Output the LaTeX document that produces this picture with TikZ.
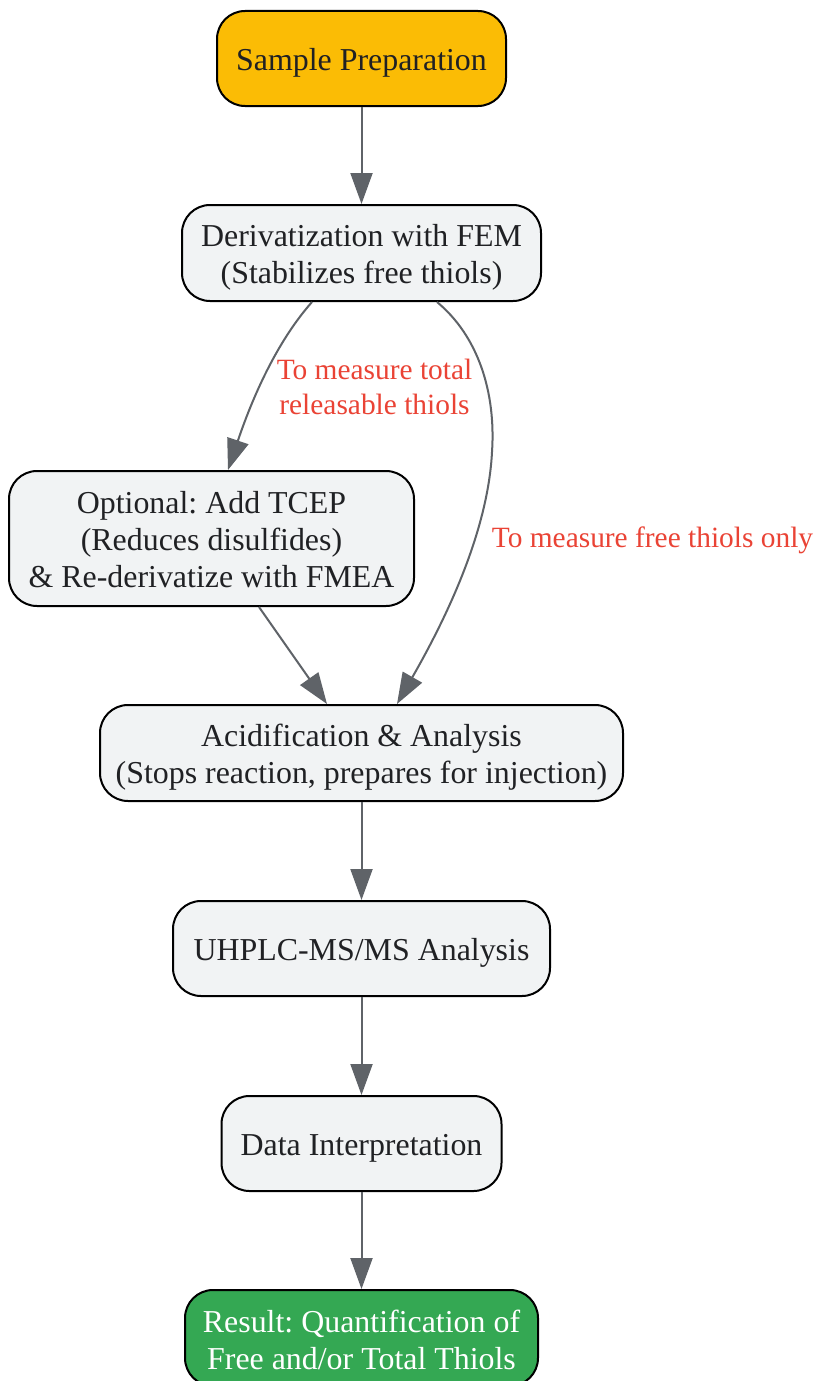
\documentclass[tikz,border=0pt]{standalone}
\usepackage{fontspec}
\setmainfont{Liberation Serif}
\usetikzlibrary{arrows.meta}
\definecolor{txt}{HTML}{202124}
\definecolor{boxfill}{HTML}{F1F3F4}
\definecolor{startfill}{HTML}{FBBC05}
\definecolor{endfill}{HTML}{34A853}
\definecolor{edgecol}{HTML}{5F6368}
\definecolor{lblcol}{HTML}{EA4335}
\newcommand{\toppad}[1][30.5pt]{\rule{0pt}{#1}}
\begin{document}
\begin{tikzpicture}[x=1pt,y=-1pt,
  stepbox/.style={draw=black, line width=2pt, rounded corners=28pt, fill=boxfill,
    text=txt, align=center, inner sep=0pt,
    font=\fontsize{31.9}{37}\selectfont\frenchspacing},
  flow/.style={draw=edgecol, line width=2pt, -{Triangle[length=31pt,width=22pt]}},
  elabel/.style={text=lblcol, align=center, inner sep=0pt,
    font=\fontsize{29.4}{35}\selectfont\frenchspacing}
]
\useasboundingbox (0,0) rectangle (814,1381);
\fill[white] (0,0) rectangle (814,1381);

\node[stepbox, fill=startfill, minimum width=289pt, minimum height=95pt] (n1) at (361.5,58.5) {\toppad Sample Preparation};
\node[stepbox, minimum width=359pt, minimum height=96pt] (n2) at (361.5,253) {\toppad Derivatization with FEM\\(Stabilizes free thiols)};
\node[stepbox, minimum width=405pt, minimum height=135pt] (n3) at (211.5,538.5) {\toppad[24.5pt]Optional: Add TCEP\\(Reduces disulfides)\\\& Re-derivatize with FMEA};
\node[stepbox, minimum width=523pt, minimum height=96pt] (n4) at (361.5,753) {\toppad Acidification \& Analysis\\(Stops reaction, prepares for injection)};
\node[stepbox, minimum width=377pt, minimum height=95pt] (n5) at (361.5,948.5) {\toppad UHPLC-MS/MS Analysis};
\node[stepbox, minimum width=280pt, minimum height=95pt] (n6) at (361.5,1143.5) {\toppad Data Interpretation};
\node[stepbox, fill=endfill, text=white, minimum width=353pt, minimum height=96pt] (n7) at (361.5,1338) {\toppad[26.5pt]Result: Quantification of\\Free and/or Total Thiols};

\draw[flow] (n1.south) -- (n2.north);
\draw[flow] ([xshift=-49.5pt]n2.south) .. controls (280,338) and (255,390) .. ([xshift=16.5pt]n3.north);
\draw[flow] ([xshift=75.5pt]n2.south) .. controls (478,336) and (496,392) .. (492,452)
  .. controls (488,530) and (448,615) .. ([xshift=35.5pt]n4.north);
\draw[flow] ([xshift=47.5pt]n3.south) -- ([xshift=-34.5pt]n4.north);
\draw[flow] (n4.south) -- (n5.north);
\draw[flow] (n5.south) -- (n6.north);
\draw[flow] (n6.south) -- (n7.north);

\node[elabel] (l1) at (374.5,387) {To measure total\\releasable thiols};
\node[elabel] (l2) at (652.5,540) {To measure free thiols only};
\end{tikzpicture}
\end{document}
